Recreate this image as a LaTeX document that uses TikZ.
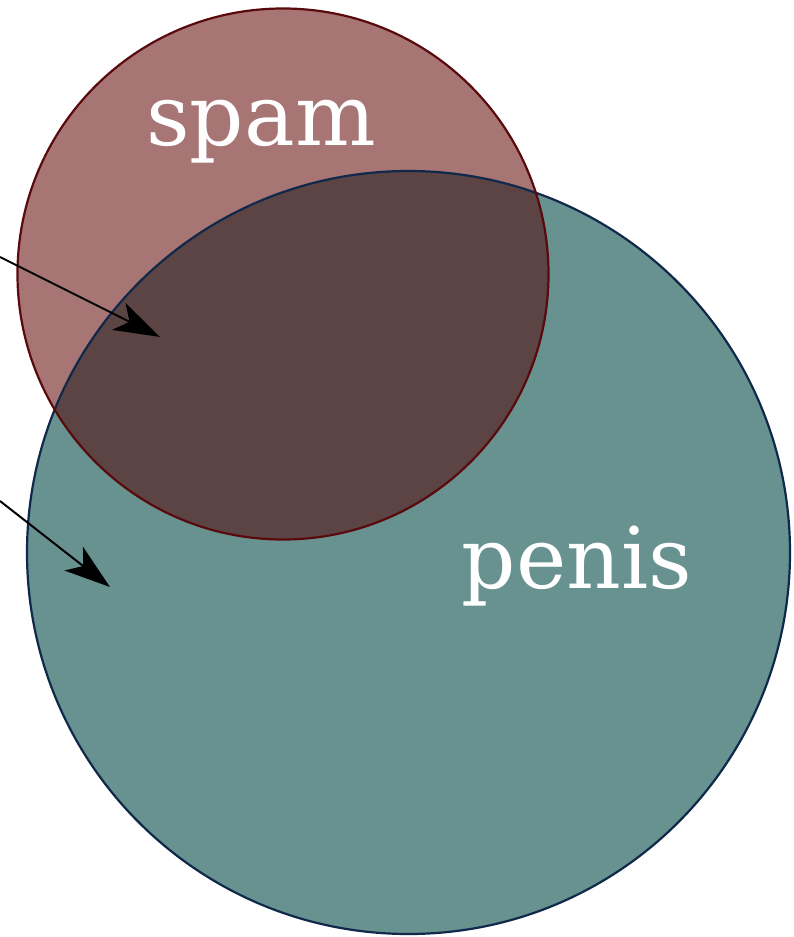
\documentclass[tikz,border=0pt]{standalone}
\usepackage{fontspec}
\setmainfont{DejaVu Serif}
\usetikzlibrary{arrows.meta}
\definecolor{spamfill}{RGB}{166,117,116}
\definecolor{penisfill}{RGB}{103,146,143}
\definecolor{bothfill}{RGB}{92,68,69}
\definecolor{spamline}{RGB}{90,10,12}
\definecolor{penisline}{RGB}{16,40,74}
\tikzset{
  lbl/.style={text=white, font=\fontsize{85}{85}\selectfont, inner sep=0pt, anchor=base},
  pointer/.style={draw=black, line width=2pt, -{Stealth[length=46pt, width=30pt, inset=12pt]}}
}
\begin{document}
\begin{tikzpicture}[x=1pt,y=-1pt]
\useasboundingbox (0,0) rectangle (793,937);
% penis circle
\fill[penisfill] (408.5,552.5) circle[radius=381.5];
% spam circle
\fill[spamfill] (283,274) circle[radius=265.5];
% overlap
\begin{scope}
  \clip (408.5,552.5) circle[radius=381.5];
  \fill[bothfill] (283,274) circle[radius=265.5];
\end{scope}
\draw[penisline, line width=2.2pt] (408.5,552.5) circle[radius=381.5];
\draw[spamline, line width=2.2pt] (283,274) circle[radius=265.5];
\node[lbl] (spam) at (261,145) {spam};
\node[lbl] (penis) at (577,588) {penis};
\coordinate (s1) at (0,257);
\coordinate (t1) at (160,337);
\coordinate (s2) at (0,501);
\coordinate (t2) at (110,587);
\draw[pointer] (s1) -- (t1);
\draw[pointer] (s2) -- (t2);
\end{tikzpicture}
\end{document}
